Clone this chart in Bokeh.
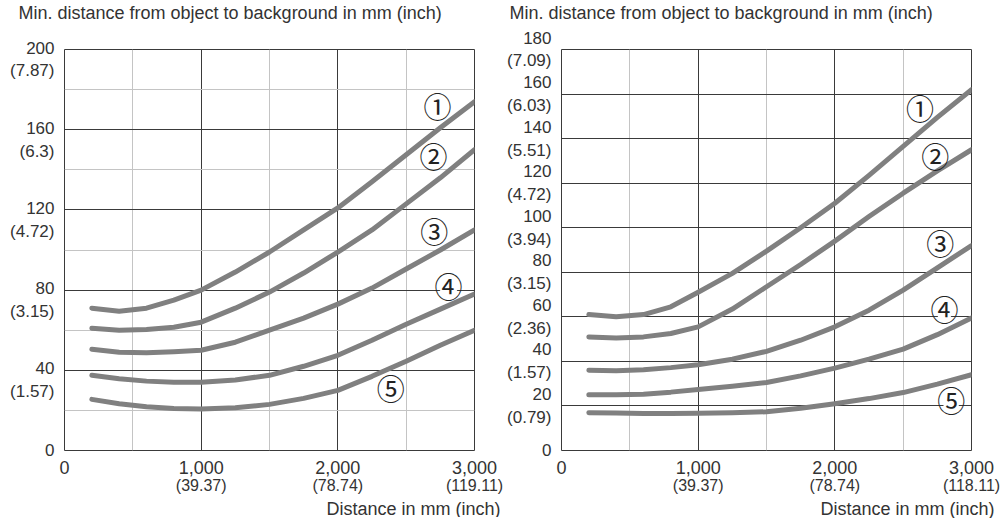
from bokeh.plotting import figure
from bokeh.layouts import row
from bokeh.models import FixedTicker, LinearAxis, Range1d, Title
from bokeh.core.properties import value
from bokeh.embed import file_html
from bokeh.resources import INLINE

# ---------------- data ----------------
dist_mm = [200, 400, 600, 800, 1000, 1250, 1500, 1750, 2000, 2250, 2500, 2750, 3000]

left_c1 = [71, 69.5, 71, 75, 80, 89, 99, 110, 121, 134, 147.5, 161, 174]
left_c2 = [61, 60, 60.3, 61.5, 64, 71, 79, 88.5, 99, 110, 123, 136, 150]
left_c3 = [50.5, 49, 48.7, 49.2, 50, 54, 60, 66, 73, 81, 90.5, 100, 110]
left_c4 = [37.5, 35.8, 34.6, 34, 34, 35.2, 37.5, 42, 47.5, 55, 63, 70.5, 78]
left_c5 = [25.5, 23.3, 21.8, 21, 20.7, 21.3, 23, 26, 30, 37, 44.5, 52.5, 60]

right_c1 = [61, 60, 61, 64.5, 71, 79.5, 89.5, 100, 111, 123.5, 136.5, 149.5, 162]
right_c2 = [51, 50.5, 51, 52.5, 55.5, 63.5, 73.5, 83.5, 94, 105, 115.5, 125.5, 135]
right_c3 = [36, 35.8, 36.2, 37.2, 38.5, 41, 44.5, 49.5, 55.5, 63, 72, 82, 92]
right_c4 = [25, 25, 25.3, 26.2, 27.4, 28.8, 30.5, 33.5, 37, 41, 45.5, 52, 59.5]
right_c5 = [17, 16.8, 16.6, 16.6, 16.7, 16.9, 17.4, 19, 21, 23.3, 26, 29.8, 34]

curve_marks = ["\u2460", "\u2461", "\u2462", "\u2463", "\u2464"]
left_mark_x = [2729, 2700, 2705, 2810, 2388]
left_mark_y = [171.8, 147, 109.6, 81.8, 31.2]
right_mark_x = [2624, 2734, 2771, 2802, 2851]
right_mark_y = [153.9, 132.2, 93, 63.3, 22.6]

x_ticks = [0, 1000, 2000, 3000]
x_minor = [500, 1500, 2500]
x_tick_labels = ["0", "1,000", "2,000", "3,000"]
left_x_inch = ["", "(39.37)", "(78.74)", "(119.11)"]
right_x_inch = ["", "(39.37)", "(78.74)", "(118.11)"]

left_y_ticks = [0, 40, 80, 120, 160, 200]
left_y_minor = [20, 60, 100, 140, 180]
left_y_inch = ["", "(1.57)", "(3.15)", "(4.72)", "(6.3)", "(7.87)"]

right_y_ticks = [0, 20, 40, 60, 80, 100, 120, 140, 160, 180]
right_y_inch = ["", "(0.79)", "(1.57)", "(2.36)", "(3.15)", "(3.94)", "(4.72)", "(5.51)", "(6.03)", "(7.09)"]

y_title = "Min. distance from object to background in mm (inch)"
x_title = "Distance in mm (inch)"

FONT = "Liberation Sans"
TXT = "#333333"
DARK = "#3a3a3a"
LIGHT = "#c4c4c4"
CURVE = "#808080"


def y_label(v, inch):
    return str(v) if not inch else f"{v}\n{inch}"


def make_chart(curves, ymax, y_ticks, y_minor, y_inch, x_inch, mark_x, mark_y,
               shift_px, left_b, right_b, top_b, bottom_b, fh, title_off, xt_off):
    p = figure(frame_width=410, frame_height=fh, x_range=Range1d(0, 3000), y_range=Range1d(0, ymax),
               output_backend="svg", toolbar_location=None,
               min_border_left=left_b, min_border_right=right_b,
               min_border_top=top_b, min_border_bottom=bottom_b)
    p.outline_line_color = DARK
    p.outline_line_width = 1
    p.background_fill_color = "white"
    p.border_fill_color = "white"

    # blank spacer between the frame and the title
    p.add_layout(Title(text=" ", text_font_size="1px", standoff=22), "above")

    p.title.text = y_title
    p.title.align = "left"
    p.title.vertical_align = "top"
    p.title.offset = title_off
    p.title.text_font = FONT
    p.title.text_font_size = "18px"
    p.title.text_font_style = "normal"
    p.title.text_color = TXT
    p.title.standoff = 0

    # grids
    p.xgrid.ticker = FixedTicker(ticks=x_ticks, minor_ticks=x_minor)
    p.xgrid.grid_line_color = DARK
    p.xgrid.minor_grid_line_color = LIGHT
    p.ygrid.ticker = FixedTicker(ticks=y_ticks, minor_ticks=y_minor)
    p.ygrid.grid_line_color = DARK
    p.ygrid.minor_grid_line_color = LIGHT if y_minor else None

    # x axis (mm)
    xa = p.xaxis[0]
    xa.ticker = FixedTicker(ticks=x_ticks)
    xa.major_label_overrides = dict(zip(x_ticks, x_tick_labels))
    xa.axis_line_color = None
    xa.major_tick_line_color = None
    xa.minor_tick_line_color = None
    xa.major_tick_out = 0
    xa.major_tick_in = 0
    xa.major_label_standoff = 10
    xa.major_label_text_font = FONT
    xa.major_label_text_font_size = "18px"
    xa.major_label_text_color = TXT

    # x axis (inch)
    xa2 = LinearAxis(ticker=FixedTicker(ticks=x_ticks),
                     major_label_overrides=dict(zip(x_ticks, x_inch)),
                     axis_line_color=None, major_tick_line_color=None, minor_tick_line_color=None,
                     major_tick_out=0, major_tick_in=0, major_label_standoff=0,
                     major_label_text_font=FONT, major_label_text_font_size="16px",
                     major_label_text_color=TXT)
    p.add_layout(xa2, "below")
    p.add_layout(Title(text=x_title, align="right", offset=xt_off, text_font=FONT,
                       text_font_size="18px", text_font_style="normal", text_color=TXT,
                       standoff=0), "below")

    # y axis: two-line labels (mm over inch)
    p.yaxis.visible = False
    if shift_px:
        # labels drawn on a range shifted so that the mm value sits on its grid line
        d = round(shift_px * ymax / fh * 4) / 4
        p.extra_y_ranges = {"lab": Range1d(d, ymax + d)}
        ticks = [v if v != 0 else 5 for v in y_ticks]
        ya = LinearAxis(y_range_name="lab")
    else:
        ticks = list(y_ticks)
        ya = LinearAxis()
    ya.ticker = FixedTicker(ticks=ticks)
    ya.major_label_overrides = {t: y_label(v, i) for t, v, i in zip(ticks, y_ticks, y_inch)}
    ya.axis_line_color = None
    ya.major_tick_line_color = None
    ya.minor_tick_line_color = None
    ya.major_tick_out = 0
    ya.major_tick_in = 0
    ya.major_label_standoff = 10
    ya.major_label_text_font = FONT
    ya.major_label_text_font_size = "17px"
    ya.major_label_text_color = TXT
    p.add_layout(ya, "left")

    for c in curves:
        p.line(dist_mm, c, line_color=CURVE, line_width=5, line_cap="round", line_join="round")

    p.scatter(mark_x, mark_y, marker="circle", size=19, fill_color="white", line_color=None)
    p.text(mark_x, mark_y, text=curve_marks, text_align="center", text_baseline="middle",
           text_font=value("Noto Sans CJK JP"), text_font_size="28px", text_color="#222222")
    return p


p1 = make_chart([left_c1, left_c2, left_c3, left_c4, left_c5], 200, left_y_ticks, left_y_minor,
                left_y_inch, left_x_inch, left_mark_x, left_mark_y, shift_px=10.2,
                left_b=64, right_b=30, top_b=48, bottom_b=68, fh=401,
                title_off=-46, xt_off=-26)
p2 = make_chart([right_c1, right_c2, right_c3, right_c4, right_c5], 180, right_y_ticks, [],
                right_y_inch, right_x_inch, right_mark_x, right_mark_y, shift_px=0,
                left_b=52, right_b=42, top_b=49, bottom_b=67, fh=401,
                title_off=-52, xt_off=-23)

layout = row(p1, p2, spacing=0)
open("out.html", "w").write(file_html(layout, INLINE))
